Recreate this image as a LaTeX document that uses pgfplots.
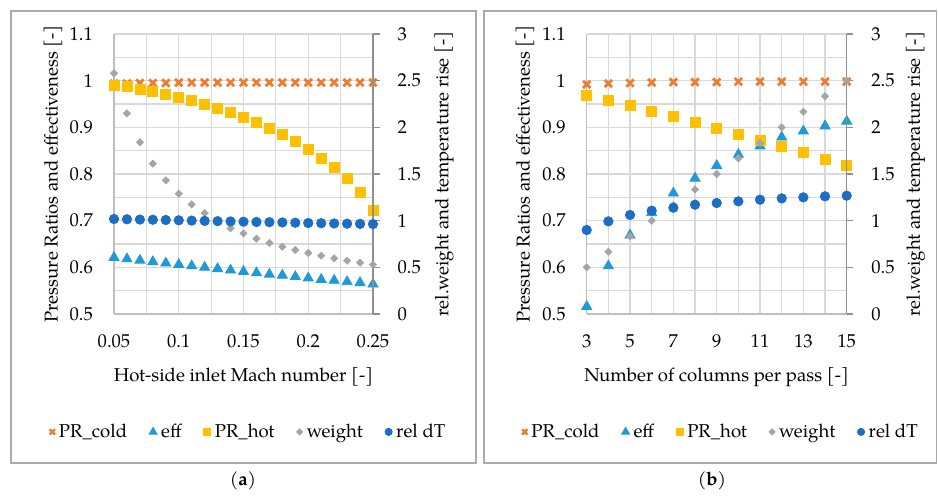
\documentclass[border=0pt]{standalone}
\usepackage{pgfplots}
\usepackage{pgfplotstable}
\pgfplotsset{compat=1.18}
\usepackage{fontspec}
\setmainfont{TeX Gyre Pagella}

\definecolor{cOrange}{HTML}{ED7D31}
\definecolor{cEff}{HTML}{1F9AD6}
\definecolor{cYellow}{HTML}{FFC000}
\definecolor{cGray}{HTML}{A5A5A5}
\definecolor{cDark}{HTML}{1C6EC4}
\definecolor{cGrid}{HTML}{D9D9D9}
\definecolor{cAxis}{HTML}{BFBFBF}
\definecolor{cAxisR}{HTML}{8F8F8F}
\definecolor{cFrame}{HTML}{ABABAB}

% (a) hot-side inlet Mach number sweep
\pgfplotstableread{
x    cold  eff   hot   weight dT
0.05 0.994 0.621 0.989 2.579 1.018
0.06 0.994 0.618 0.987 2.150 1.015
0.07 0.995 0.615 0.982 1.840 1.012
0.08 0.995 0.612 0.976 1.611 1.010
0.09 0.995 0.609 0.971 1.432 1.007
0.10 0.996 0.606 0.964 1.289 1.004
0.11 0.996 0.603 0.958 1.175 1.001
0.12 0.996 0.600 0.950 1.082 0.998
0.13 0.996 0.597 0.941 0.995 0.995
0.14 0.996 0.594 0.931 0.918 0.992
0.15 0.996 0.591 0.921 0.864 0.989
0.16 0.996 0.588 0.911 0.807 0.986
0.17 0.996 0.585 0.897 0.761 0.984
0.18 0.996 0.583 0.884 0.721 0.981
0.19 0.996 0.580 0.869 0.686 0.978
0.20 0.996 0.577 0.852 0.654 0.975
0.21 0.996 0.574 0.834 0.625 0.973
0.22 0.996 0.572 0.814 0.597 0.970
0.23 0.996 0.569 0.790 0.571 0.968
0.24 0.996 0.567 0.760 0.550 0.966
0.25 0.996 0.564 0.722 0.529 0.964
}\tabA

% (b) number of columns per pass
\pgfplotstableread{
x  cold  eff   hot   weight dT
3  0.992 0.516 0.969 0.500 0.900
4  0.994 0.603 0.958 0.667 0.993
5  0.995 0.669 0.946 0.833 1.061
6  0.996 0.717 0.935 1.000 1.107
7  0.997 0.759 0.923 1.167 1.139
8  0.997 0.791 0.911 1.333 1.171
9  0.997 0.818 0.898 1.500 1.189
10 0.998 0.842 0.885 1.667 1.207
11 0.998 0.860 0.873 1.833 1.225
12 0.998 0.879 0.860 2.000 1.239
13 0.998 0.892 0.846 2.167 1.250
14 0.998 0.903 0.832 2.333 1.261
15 0.998 0.913 0.818 2.500 1.268
}\tabB

\pgfplotsset{
  common/.style={
    scale only axis, height=140pt,
    font=\fontsize{9.3}{11}\selectfont,
    clip=false,
    /pgf/number format/assume math mode=true,
  },
  leftaxis/.style={
    common,
    ymin=0.5, ymax=1.1,
    axis x line*=bottom, axis y line*=left,
    axis line style={cAxis, line width=0.6pt},
    ytick={0.5,0.6,0.7,0.8,0.9,1.0,1.1},
    minor ytick={0.55,0.65,0.75,0.85,0.95,1.05},
    grid=both,
    grid style={cGrid, line width=0.55pt},
    minor grid style={cGrid, line width=0.55pt},
    major tick length=0pt, minor tick length=0pt,
    yticklabel style={xshift=-7pt},
    xticklabel style={yshift=-7pt},
    ylabel={Pressure Ratios and effectiveness [-]},
    xlabel style={at={(axis description cs:0.5,-0.224)}, anchor=center},
  },
  rightaxis/.style={
    common,
    ymin=0, ymax=3,
    axis x line=none, axis y line*=right,
    axis line style={cAxisR, line width=0.6pt},
    ytick={0,0.5,1,1.5,2,2.5,3},
    tick align=outside, major tick length=3.3pt,
    ytick style={cAxisR, line width=0.6pt},
    yticklabel style={xshift=5.5pt},
    ylabel={rel.weight and temperature rise [-]},
    legend style={draw=none, fill=none, legend columns=5,
      font=\fontsize{9.3}{11}\selectfont,
      /tikz/every even column/.append style={column sep=9pt}},
    legend cell align=left,
  },
  sCold/.style={only marks, mark=x, mark size=2.6pt, cOrange, line width=1.4pt},
  sEff/.style={only marks, mark=triangle*, mark size=2.9pt, cEff},
  sHot/.style={only marks, mark=square*, mark size=2.5pt, cYellow},
  sWeight/.style={only marks, mark=square*, mark size=1.25pt, cGray, mark options={rotate=45}},
  sDT/.style={only marks, mark=*, mark size=2.35pt, cDark},
}

\newcommand{\legendall}{%
  \addlegendimage{only marks, mark=x, mark size=1.9pt, cOrange, line width=1.2pt}
  \addlegendentry{PR\_cold}
  \addlegendimage{only marks, mark=triangle*, mark size=2.3pt, cEff}
  \addlegendentry{eff}
  \addlegendimage{only marks, mark=square*, mark size=1.8pt, cYellow}
  \addlegendentry{PR\_hot}
  \addlegendimage{only marks, mark=square*, mark size=1.1pt, cGray, mark options={rotate=45}}
  \addlegendentry{weight}
  \addlegendimage{only marks, mark=*, mark size=1.8pt, cDark}
  \addlegendentry{rel dT}
}

\begin{document}
\begin{tikzpicture}
\path[use as bounding box] (0pt,0pt) rectangle (469pt,-247.5pt);
\draw[cFrame, line width=0.6pt] (5.5pt,-5.5pt) rectangle (238pt,-231.5pt);
\draw[cFrame, line width=0.6pt] (242pt,-5.5pt) rectangle (468.25pt,-231.5pt);

% ---------- panel (a) ----------
\begin{axis}[leftaxis, at={(57pt,-157pt)}, anchor=south west, width=129.5pt,
  xmin=0.05, xmax=0.25,
  xtick={0.05,0.1,0.15,0.2,0.25},
  minor xtick={0.075,0.125,0.175,0.225},
  xticklabels={0.05,0.1,0.15,0.2,0.25},
  yticklabels={0.5,0.6,0.7,0.8,0.9,1,1.1},
  xlabel={Hot-side inlet Mach number [-]},
  ylabel style={at={(axis description cs:-0.2355,0.5)}, anchor=center},
]
\addplot[sCold] table[x=x, y=cold] {\tabA};
\addplot[sEff] table[x=x, y=eff] {\tabA};
\addplot[sHot] table[x=x, y=hot] {\tabA};
\end{axis}
\begin{axis}[rightaxis, at={(57pt,-157pt)}, anchor=south west, width=129.5pt,
  xmin=0.05, xmax=0.25,
  yticklabels={0,0.5,1,1.5,2,2.5,3},
  ylabel style={at={(axis description cs:1.274,0.5)}, anchor=center},
  legend style={at={(axis description cs:0.523,-0.421)}, anchor=center},
]
\legendall
\addplot[sWeight, forget plot] table[x=x, y=weight] {\tabA};
\addplot[sDT, forget plot] table[x=x, y=dT] {\tabA};
\end{axis}

% ---------- panel (b) ----------
\begin{axis}[leftaxis, at={(293.35pt,-157pt)}, anchor=south west, width=130pt,
  xmin=3, xmax=15,
  xtick={3,5,7,9,11,13,15},
  minor xtick={4,6,8,10,12,14},
  yticklabels={0.5,0.6,0.7,0.8,0.9,1,1.1},
  xlabel={Number of columns per pass [-]},
  ylabel style={at={(axis description cs:-0.237,0.5)}, anchor=center},
]
\addplot[sCold] table[x=x, y=cold] {\tabB};
\addplot[sEff] table[x=x, y=eff] {\tabB};
\addplot[sHot] table[x=x, y=hot] {\tabB};
\end{axis}
\begin{axis}[rightaxis, at={(293.35pt,-157pt)}, anchor=south west, width=130pt,
  xmin=3, xmax=15,
  yticklabels={0,0.5,1,1.5,2,2.5,3},
  ylabel style={at={(axis description cs:1.265,0.5)}, anchor=center},
  legend style={at={(axis description cs:0.52,-0.421)}, anchor=center},
]
\legendall
\addplot[sWeight, forget plot] table[x=x, y=weight] {\tabB};
\addplot[sDT, forget plot] table[x=x, y=dT] {\tabB};
\end{axis}

\node[font=\fontsize{9.3}{11}\selectfont] at (121.5pt,-240.5pt) {(\textbf{a})};
\node[font=\fontsize{9.3}{11}\selectfont] at (356pt,-240.5pt) {(\textbf{b})};
\end{tikzpicture}
\end{document}
